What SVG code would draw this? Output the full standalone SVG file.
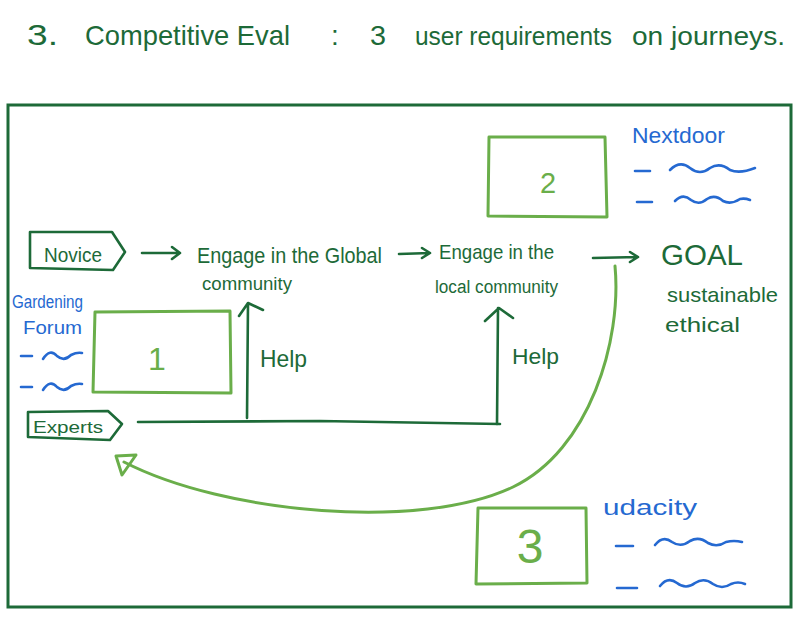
<svg xmlns="http://www.w3.org/2000/svg" width="800" height="617" viewBox="0 0 800 617">
<defs>
<style>
text{font-family:"Liberation Sans","DejaVu Sans",sans-serif}
.dk{fill:#1d6a38}
.bl{fill:#2569d1}
.lg{fill:#6aae4a}
.sdk{fill:none;stroke:#1d6a38;stroke-width:2.6;stroke-linecap:round;stroke-linejoin:round}
.slg{fill:none;stroke:#6aae4a;stroke-width:3;stroke-linecap:round;stroke-linejoin:round}
.sbl{fill:none;stroke:#2569d1;stroke-width:2.6;stroke-linecap:round;stroke-linejoin:round}
</style>
</defs>
<rect width="800" height="617" fill="#ffffff"/>

<g id="title" class="dk">
<text x="27" y="45" font-size="30" textLength="31" lengthAdjust="spacingAndGlyphs">3.</text>
<text x="85" y="45" font-size="28" textLength="205" lengthAdjust="spacingAndGlyphs">Competitive Eval</text>
<text x="331" y="45" font-size="28">:</text>
<text x="370" y="45" font-size="28" textLength="16" lengthAdjust="spacingAndGlyphs">3</text>
<text x="415" y="45" font-size="26" textLength="197" lengthAdjust="spacingAndGlyphs">user requirements</text>
<text x="632" y="45" font-size="26" textLength="153" lengthAdjust="spacingAndGlyphs">on journeys.</text>
</g>

<rect id="frame" x="8" y="105" width="783" height="502" fill="none" stroke="#1d6a38" stroke-width="3"/>

<g id="novice">
<path class="sdk" d="M30 232 L112 232 L125 252 L113 270 L30 268 Z"/>
<text class="dk" x="44" y="262" font-size="21" textLength="58" lengthAdjust="spacingAndGlyphs">Novice</text>
</g>

<g id="experts">
<path class="sdk" d="M28 412 L108 411 L122 424 L110 440 L28 437 Z"/>
<text class="dk" x="33" y="433" font-size="17" textLength="70" lengthAdjust="spacingAndGlyphs">Experts</text>
</g>

<g id="global">
<text class="dk" x="197" y="263" font-size="22" textLength="185" lengthAdjust="spacingAndGlyphs">Engage in the Global</text>
<text class="dk" x="202" y="290" font-size="18" textLength="90" lengthAdjust="spacingAndGlyphs">community</text>
</g>

<g id="local">
<text class="dk" x="439" y="259" font-size="21" textLength="115" lengthAdjust="spacingAndGlyphs">Engage in the</text>
<text class="dk" x="435" y="293" font-size="18" textLength="123" lengthAdjust="spacingAndGlyphs">local community</text>
</g>

<g id="goal">
<text class="dk" x="661" y="265" font-size="30" textLength="82" lengthAdjust="spacingAndGlyphs">GOAL</text>
<text class="dk" x="667" y="302" font-size="21" textLength="111" lengthAdjust="spacingAndGlyphs">sustainable</text>
<text class="dk" x="665" y="332" font-size="21" textLength="75" lengthAdjust="spacingAndGlyphs">ethical</text>
</g>

<g id="box1">
<path class="slg" d="M95 312 L230 311 L231 393 L93 392 Z"/>
<text class="lg" x="157" y="370" font-size="32" text-anchor="middle">1</text>
</g>

<g id="box2">
<path class="slg" d="M489 137 L605 137 L607 217 L488 216 Z"/>
<text class="lg" x="548" y="193" font-size="29" text-anchor="middle">2</text>
</g>

<g id="box3">
<path class="slg" d="M478 508 L586 508 L587 583 L476 584 Z"/>
<text class="lg" x="530" y="563" font-size="48" text-anchor="middle">3</text>
</g>

<g id="gardening">
<text class="bl" x="12" y="308" font-size="18" textLength="71" lengthAdjust="spacingAndGlyphs">Gardening</text>
<text class="bl" x="23" y="334" font-size="18" textLength="59" lengthAdjust="spacingAndGlyphs">Forum</text>
<path class="sbl" d="M21 356 L32 356 M43 359 Q50 348 57 356 Q64 362 71 355 Q77 352 82 353"/>
<path class="sbl" d="M21 387 L32 387 M43 390 Q50 379 57 387 Q64 393 71 386 Q77 383 82 384"/>
</g>

<g id="nextdoor">
<text class="bl" x="632" y="143" font-size="22" textLength="93" lengthAdjust="spacingAndGlyphs">Nextdoor</text>
<path class="sbl" d="M635 171 L650 171 M670 170 Q680 160 690 168 Q700 176 710 168 Q720 162 730 170 Q740 174 755 168"/>
<path class="sbl" d="M637 202 L652 202 M675 201 Q683 193 691 200 Q699 206 707 199 Q715 194 723 201 Q731 205 740 199 Q745 198 750 200"/>
</g>

<g id="udacity">
<text class="bl" x="603" y="515" font-size="22" textLength="94" lengthAdjust="spacingAndGlyphs">udacity</text>
<path class="sbl" d="M616 546 L633 546 M655 545 Q663 535 672 542 Q681 548 690 541 Q699 536 708 543 Q717 548 726 542 Q734 540 742 542"/>
<path class="sbl" d="M617 588 L637 588 M660 586 Q668 576 677 583 Q686 590 695 583 Q704 577 713 584 Q722 590 731 584 Q738 581 745 584"/>
</g>

<g id="helps" class="dk">
<text x="260" y="367" font-size="24" textLength="47" lengthAdjust="spacingAndGlyphs">Help</text>
<text x="512" y="364" font-size="22" textLength="47" lengthAdjust="spacingAndGlyphs">Help</text>
</g>

<g id="connectors">
<path class="sdk" d="M142 253 L180 253 M172 247 L180 253 L172 259"/>
<path class="sdk" d="M399 254 L430 253 M422 248 L430 253 L422 258"/>
<path class="sdk" d="M593 258 L638 257 M630 252 L638 257 L630 262"/>
<path class="sdk" d="M138 422 L320 421 L500 424 L498 424"/>
<path class="sdk" d="M247 418 L248 303 M239 316 L248 303 L263 310"/>
<path class="sdk" d="M497 424 L498 308 M485 321 L499 308 L513 318"/>
<path class="slg" d="M615 266 C622 340 590 450 513 487 C421 531 225 514 124 462"/>
<polygon class="slg" stroke-width="4" points="116,456 136,455 122,475"/>
</g>
</svg>
